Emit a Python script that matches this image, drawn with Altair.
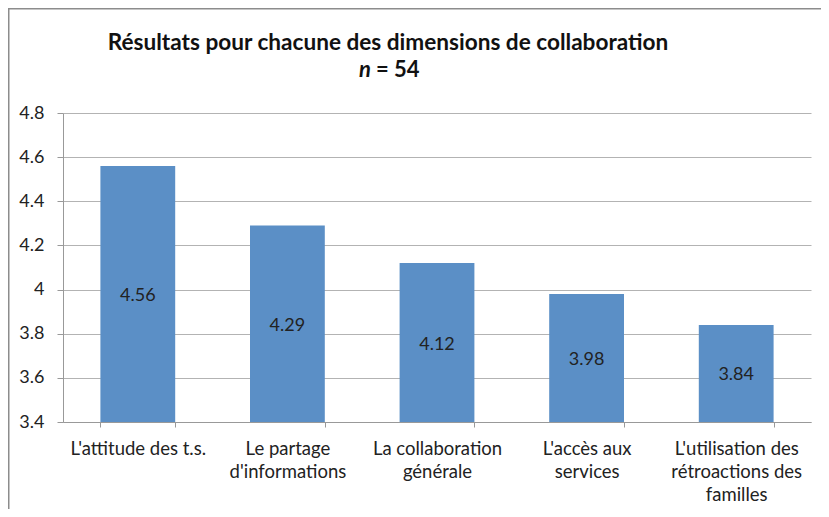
import json
import altair as alt
import pandas as pd

categories = [
    "L'attitude des t.s.",
    "Le partage d'informations",
    "La collaboration générale",
    "L'accès aux services",
    "L'utilisation des rétroactions des familles",
]
label_lines = [
    ["L'attitude des t.s."],
    ["Le partage", "d'informations"],
    ["La collaboration", "générale"],
    ["L'accès aux", "services"],
    ["L'utilisation des", "rétroactions des", "familles"],
]
values = [4.56, 4.29, 4.12, 3.98, 3.84]
y_ticks = [3.4, 3.6, 3.8, 4.0, 4.2, 4.4, 4.6, 4.8]
title_line1 = "Résultats pour chacune des dimensions de collaboration"
title_n = "n"
title_rest = "= 54"

FONT = "Lato"
BASE = 3.4
W, H = 748, 309

df = pd.DataFrame({"cat": categories, "val": values})
label_map = json.dumps(dict(zip(categories, label_lines)), ensure_ascii=False)

x_enc = alt.X(
    "cat:N",
    sort=categories,
    title=None,
    scale=alt.Scale(paddingInner=0.5, paddingOuter=0.25),
    axis=alt.Axis(
        labelAngle=0,
        labelExpr=f"{label_map}[datum.label]",
        labelFont=FONT,
        labelFontSize=18.5,
        labelColor="#222222",
        labelLineHeight=23,
        labelPadding=12,
        tickBand="extent",
        tickSize=5,
        tickColor="#999999",
        domainColor="#999999",
        grid=False,
        labelLimit=300,
    ),
)

y_scale = alt.Scale(domain=[y_ticks[0], y_ticks[-1]], zero=False, nice=False)

bars = alt.Chart(df).mark_bar(color="#5b8fc6").encode(
    x=x_enc,
    y=alt.Y(
        "val:Q",
        scale=y_scale,
        title=None,
        axis=alt.Axis(
            values=y_ticks,
            format=".1~f",
            labelFont=FONT,
            labelFontSize=18,
            labelColor="#222222",
            labelPadding=13,
            tickSize=6,
            tickColor="#999999",
            domainColor="#999999",
            gridColor="#b3b3b3",
            gridWidth=1,
        ),
    ),
    y2=alt.datum(BASE),
)

labels = alt.Chart(df).transform_calculate(
    mid=f"(datum.val + {BASE}) / 2"
).mark_text(font=FONT, fontSize=18, color="#222222", dy=2).encode(
    x=alt.X("cat:N", sort=categories),
    y=alt.Y("mid:Q", scale=y_scale),
    text=alt.Text("val:Q", format=".2f"),
)

t1 = alt.Chart(pd.DataFrame({"t": [title_line1]})).mark_text(
    font=FONT, fontSize=22.6, fontWeight="bold", color="#111111",
    align="center", baseline="middle",
).encode(x=alt.value(325), y=alt.value(-70), text="t:N")

t2 = alt.Chart(pd.DataFrame({"t": [title_n]})).mark_text(
    font=FONT, fontSize=22, fontWeight="bold", fontStyle="italic", color="#111111",
    align="right", baseline="middle",
).encode(x=alt.value(308), y=alt.value(-43), text="t:N")

t3 = alt.Chart(pd.DataFrame({"t": [title_rest]})).mark_text(
    font=FONT, fontSize=22, fontWeight="bold", color="#111111",
    align="left", baseline="middle",
).encode(x=alt.value(313), y=alt.value(-43), text="t:N")

frame = alt.Chart(pd.DataFrame({"a": [0]})).mark_rect(
    fill=None, stroke="#8c8c8c", strokeWidth=1.5
).encode(
    x=alt.value(-54.25), x2=alt.value(W + 200),
    y=alt.value(-104.25), y2=alt.value(H + 300),
)

chart = alt.layer(frame, bars, labels, t1, t2, t3).properties(
    width=W,
    height=H,
    autosize=alt.AutoSizeParams(type="none"),
    padding={"left": 55, "top": 105, "right": 10, "bottom": 87},
    background="white",
).configure_view(stroke=None)

chart.save("out.html", embed_options={"renderer": "svg", "actions": False})
